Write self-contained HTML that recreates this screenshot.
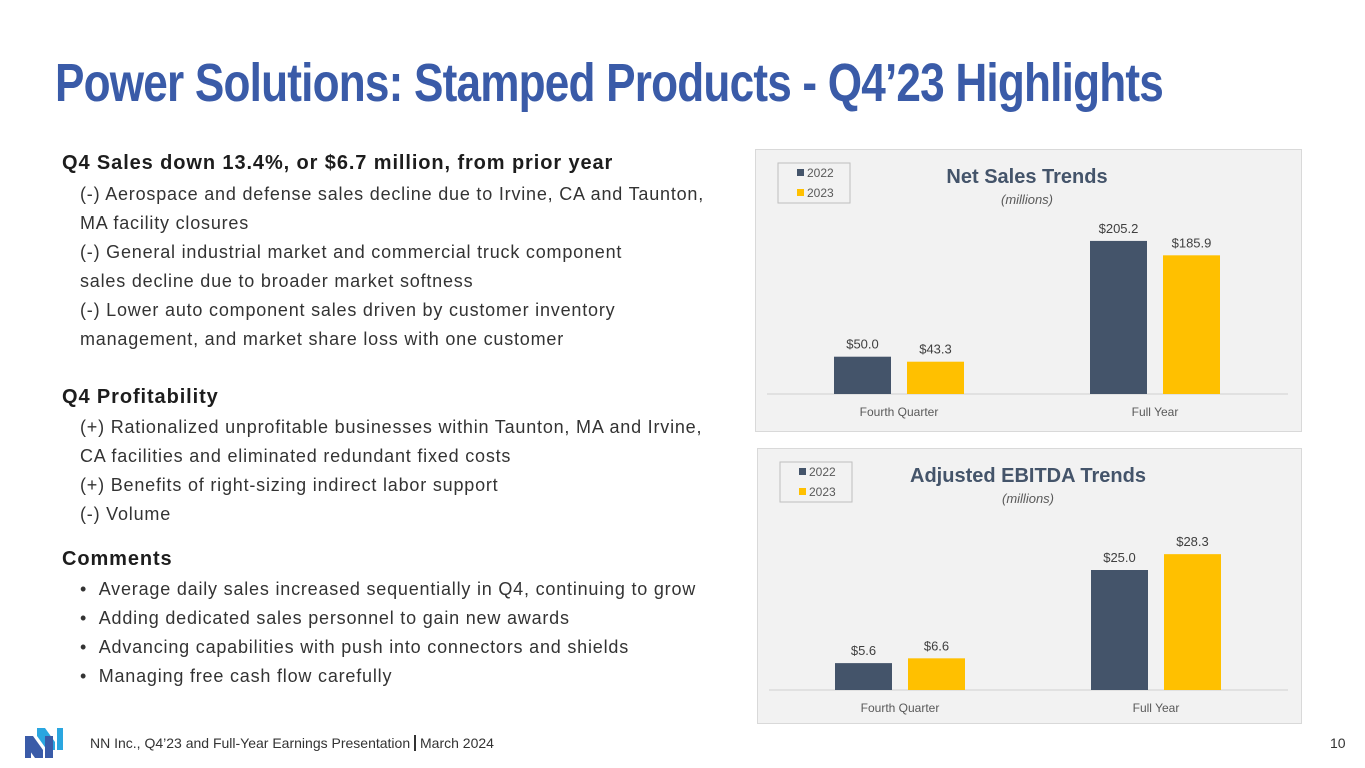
<!DOCTYPE html>
<html><head><meta charset="utf-8"><style>
body{margin:0;width:1365px;height:768px;background:#fff;position:relative;overflow:hidden;font-family:"Liberation Sans",sans-serif;color:#222}
.t{position:absolute;white-space:nowrap}
#title{left:55px;top:52px;font-family:"Liberation Sans Narrow","Liberation Sans",sans-serif;font-weight:bold;font-size:54px;color:#3a5ba8;transform-origin:0 0;letter-spacing:-1px}
.h{font-weight:bold;font-size:20px;color:#1d1d1d;left:62px;letter-spacing:0.9px}
.b{font-size:18px;color:#333;left:80px;letter-spacing:0.8px}
.chartbox{position:absolute;background:#f2f2f2;border:1px solid #d9d9d9}
</style></head><body>
<div class="t" id="title">Power Solutions: Stamped Products - Q4’23 Highlights</div>
<div class="t h" style="top:152px">Q4 Sales down 13.4%, or $6.7 million, from prior year</div>
<div class="t b" style="top:184px">(-) Aerospace and defense sales decline due to Irvine, CA and Taunton,</div>
<div class="t b" style="top:213px">MA facility closures</div>
<div class="t b" style="top:242px">(-) General industrial market and commercial truck component</div>
<div class="t b" style="top:271px">sales decline due to broader market softness</div>
<div class="t b" style="top:300px">(-) Lower auto component sales driven by customer inventory</div>
<div class="t b" style="top:329px">management, and market share loss with one customer</div>
<div class="t h" style="top:386px">Q4 Profitability</div>
<div class="t b" style="top:417px">(+) Rationalized unprofitable businesses within Taunton, MA and Irvine,</div>
<div class="t b" style="top:446px">CA facilities and eliminated redundant fixed costs</div>
<div class="t b" style="top:475px">(+) Benefits of right-sizing indirect labor support</div>
<div class="t b" style="top:504px">(-) Volume</div>
<div class="t h" style="top:548px">Comments</div>
<div class="t b" style="top:579px">• &nbsp;Average daily sales increased sequentially in Q4, continuing to grow</div>
<div class="t b" style="top:608px">• &nbsp;Adding dedicated sales personnel to gain new awards</div>
<div class="t b" style="top:637px">• &nbsp;Advancing capabilities with push into connectors and shields</div>
<div class="t b" style="top:666px">• &nbsp;Managing free cash flow carefully</div>

<div class="chartbox" style="left:755px;top:149px;width:545px;height:281px"></div>
<div class="chartbox" style="left:757px;top:448px;width:543px;height:274px"></div>
<svg id="svg" width="1365" height="768" style="position:absolute;left:0;top:0"></svg>

<svg style="position:absolute;left:25px;top:728px" width="40" height="30">
<polygon points="0,8 8,8 18,22 18,30 10,30 0,16" fill="#3a5ba8"/><polygon points="0,12 6,12 6,30 0,30" fill="#3a5ba8"/>
<polygon points="12,0 20,0 30,14 30,22 22,22 12,8" fill="#2aa6e0"/><polygon points="32,0 38,0 38,22 32,22" fill="#2aa6e0"/>
<polygon points="20,8 28,8 28,30 20,30" fill="#3a5ba8"/>
</svg>
<div class="t" style="left:90px;top:735px;font-size:14px;color:#333">NN Inc., Q4’23 and Full-Year Earnings Presentation <span style="border-left:2px solid #333;padding-left:4px">March 2024</span></div>
<div class="t" style="left:1330px;top:735px;font-size:14px;color:#333">10</div>

<script>
const categories=["Fourth Quarter","Full Year"];
const years=["2022","2023"];
const sales2022=[50.0,205.2];
const sales2023=[43.3,185.9];
const ebitda2022=[5.6,25.0];
const ebitda2023=[6.6,28.3];
const svg=document.getElementById('svg');
const NS="http://www.w3.org/2000/svg";
function mk(tag,attrs){const e=document.createElementNS(NS,tag);for(const k in attrs)e.setAttribute(k,attrs[k]);svg.appendChild(e);return e;}
const colors=["#44546a","#ffc000"];
function chart(cfg){
  const yS=v=>cfg.base-v*cfg.scale;
  const xS=(ci,si)=>cfg.x0+ci*cfg.groupGap+si*73;
  const ax=mk('line',{x1:cfg.left+12,x2:cfg.right-12,y1:cfg.base,y2:cfg.base,stroke:'#d0d0d0','stroke-width':1});
  
  
  const tt=mk('text',{x:cfg.cx,y:cfg.top+34,'text-anchor':'middle','font-size':20,'font-weight':'bold',fill:'#44546a','font-family':'Liberation Sans'});
  tt.textContent=cfg.title;
  
  
  const st=mk('text',{x:cfg.cx,y:cfg.top+55,'text-anchor':'middle','font-size':13,'font-style':'italic',fill:'#595959','font-family':'Liberation Sans'});
  st.textContent='(millions)';
  
  
  const lb=mk('rect',{x:cfg.left+23,y:cfg.top+14,width:72,height:40,fill:'none',stroke:'#bfbfbf'});
  
  
  years.forEach((y,i)=>{
    const r=mk('rect',{x:cfg.left+42,y:cfg.top+23+i*20-3,width:7,height:7,fill:colors[i]});
    
    
    const t=mk('text',{x:cfg.left+52,y:cfg.top+28+i*20,'font-size':12,fill:'#595959','font-family':'Liberation Sans'});
    t.textContent=y;
    
    
  });
  categories.forEach((c,ci)=>{
    [cfg.s1,cfg.s2].forEach((s,si)=>{
      const x=xS(ci,si),v=s[ci];
      const r=mk('rect',{x:x,y:yS(v),width:57,height:cfg.base-yS(v),fill:colors[si]});
      
      
      const t=mk('text',{x:x+28.5,y:yS(v)-8,'text-anchor':'middle','font-size':13,fill:'#404040','font-family':'Liberation Sans'});
      t.textContent='$'+v.toFixed(1);
      
      
    });
    const t=mk('text',{x:xS(ci,0)+65,y:cfg.base+22,'text-anchor':'middle','font-size':12,fill:'#595959','font-family':'Liberation Sans'});
    t.textContent=c;
    
    
  });
}
chart({name:'net-sales',title:'Net Sales Trends',s1:sales2022,s2:sales2023,left:755,right:1300,top:149,cx:1027,base:394,scale:0.746,x0:834,groupGap:256});
chart({name:'ebitda',title:'Adjusted EBITDA Trends',s1:ebitda2022,s2:ebitda2023,left:757,right:1300,top:448,cx:1028,base:690,scale:4.8,x0:835,groupGap:256});
const title=document.getElementById('title');
title.style.transform='scaleX('+(1108/title.getBoundingClientRect().width)+')';
</script>
</body></html>
